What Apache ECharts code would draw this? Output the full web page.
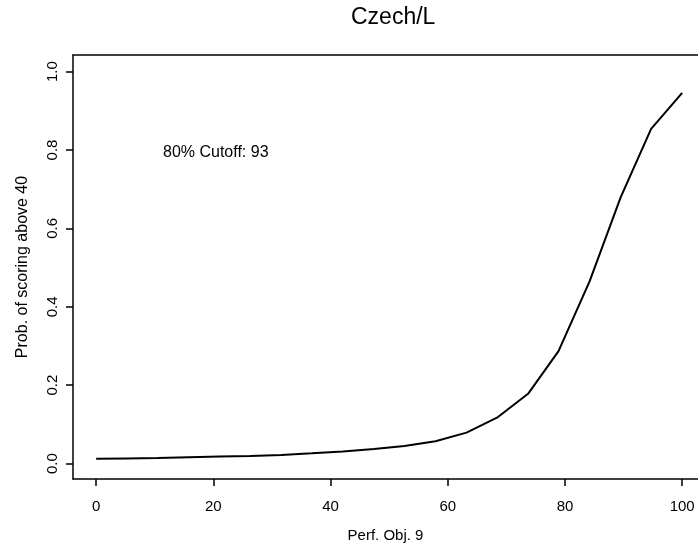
<!DOCTYPE html>
<html>
<head>
<meta charset="utf-8">
<script src="https://cdn.jsdelivr.net/npm/echarts@6/dist/echarts.min.js"></script>
<style>
  html, body { margin: 0; padding: 0; background: #fff; }
  #chart { width: 698px; height: 548px; }
</style>
</head>
<body>
<div id="chart"></div>
<script>
// 数据
const perfScores = [0, 5.26, 10.5, 15.8, 21.1, 26.3, 31.6, 36.8, 42.1, 47.4,
                    52.6, 57.9, 63.2, 68.4, 73.7, 78.9, 84.2, 89.5, 94.7, 100]
const probAbove40 = [0.012, 0.013, 0.014, 0.016, 0.018, 0.019, 0.022, 0.026, 0.031, 0.037,
                     0.045, 0.057, 0.079, 0.117, 0.178, 0.287, 0.465, 0.679, 0.854, 0.946]
const xTicks = [0, 20, 40, 60, 80, 100]
const yTicks = [0, 0.2, 0.4, 0.6, 0.8, 1.0]

const font = '"Liberation Sans", Arial, Helvetica, sans-serif'
const chart = echarts.init(document.getElementById('chart'))

chart.setOption({
    animation: false,
    title: [{
        text: 'Czech/L',
        left: 346,
        top: 1,
        textStyle: { fontFamily: font, fontSize: 23, fontWeight: 'normal', color: '#000' }
    }, {
        // 注释
        text: '80% Cutoff: 93',
        left: 158,
        top: 140,
        textStyle: { fontFamily: font, fontSize: 16, fontWeight: 'normal', color: '#000' }
    }],
    grid: { left: 73, top: 55, right: 0, bottom: 67.5 },
    xAxis: [{
        type: 'value',
        min: -3.95,
        max: 102.7,
        name: 'Perf. Obj. 9',
        nameLocation: 'middle',
        nameGap: 49,
        nameTextStyle: { fontFamily: font, fontSize: 15, color: '#000' },
        splitLine: { show: false },
        axisLine: { onZero: false, lineStyle: { color: '#000', width: 1.5 } },
        axisTick: { customValues: xTicks, length: 7, lineStyle: { color: '#000', width: 1.5 } },
        axisLabel: { customValues: xTicks, margin: 20, fontFamily: font, fontSize: 15, color: '#000' }
    }, {
        // 上边框
        type: 'value',
        position: 'top',
        min: -3.95,
        max: 102.7,
        splitLine: { show: false },
        axisLine: { onZero: false, lineStyle: { color: '#000', width: 1.5 } },
        axisTick: { show: false },
        axisLabel: { show: false }
    }],
    yAxis: {
        type: 'value',
        min: -0.0394,
        max: 1.0425,
        name: 'Prob. of scoring above 40',
        nameLocation: 'middle',
        nameGap: 42,
        nameTextStyle: { fontFamily: font, fontSize: 16, color: '#000' },
        splitLine: { show: false },
        axisLine: { onZero: false, lineStyle: { color: '#000', width: 1.5 } },
        axisTick: { customValues: yTicks, length: 7, lineStyle: { color: '#000', width: 1.5 } },
        axisLabel: {
            customValues: yTicks,
            rotate: 90,
            margin: 13,
            fontFamily: font,
            fontSize: 15,
            color: '#000',
            formatter: v => v.toFixed(1)
        }
    },
    series: [{
        type: 'line',
        data: perfScores.map((x, i) => [x, probAbove40[i]]),
        showSymbol: false,
        lineStyle: { color: '#000', width: 2 }
    }]
})
</script>
</body>
</html>
